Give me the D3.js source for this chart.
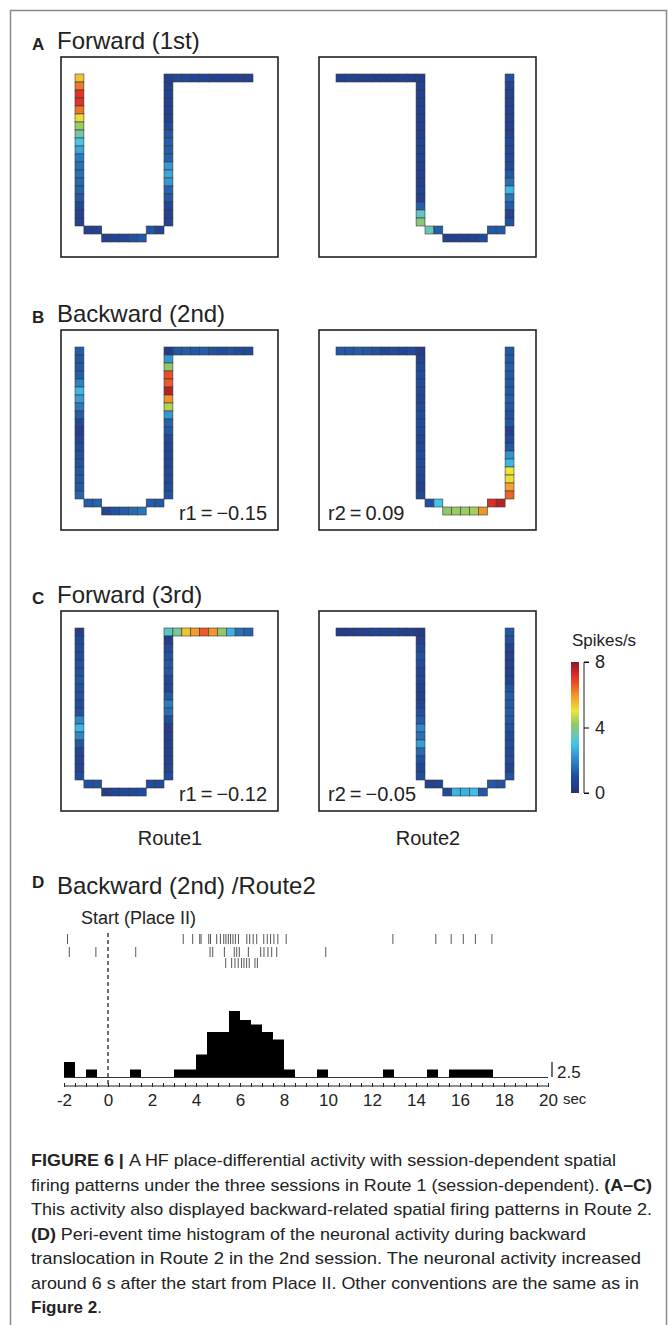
<!DOCTYPE html>
<html>
<head>
<meta charset="utf-8">
<script src="https://cdn.jsdelivr.net/npm/d3@7"></script>
<style>
  body { margin: 0; background: #fff; }
  text { font-family: "Liberation Sans", Arial, sans-serif; fill: #222; }
  .cap { font-family: "Liberation Sans Narrow", "Liberation Sans", sans-serif; }
</style>
</head>
<body>
<script>
// firing rate (spikes/s) per track cell, in reading order
// route1: left col top->bottom(19), stepL(2), bottom(5), stepR(2), right col top->bottom(19), top row(9)
// route2: top row(9), centre col top->bottom(19), stepL(2), bottom(5), stepR(2), right col top->bottom(19)
var aRoute1 = [5.4,6.3,7.1,7.1,6.3,5.1,4.3,3.6,3.1,2.5,1.8,1.6,1.6,1.5,1.4,1.2,0.8,0.6,0.6,
  0.6,0.7, 0.6,0.7,0.9,1.1,1.2, 1.2,0.7,
  0.6,0.6,0.6,0.6,0.6,0.6,0.9,1.2,1.3,1.3,1.4,2.3,2.5,2.3,1.4,1.2,0.8,0.6,0.7,
  0.9,0.9,0.8,0.8,0.6,0.6,0.6,0.6,0.6];
var aRoute2 = [0.6,0.7,0.6,0.6,0.5,0.5,0.5,0.6,0.5,
  0.5,0.6,0.6,0.6,0.6,0.6,0.6,0.6,0.7,0.7,0.7,0.6,0.6,0.6,0.7,0.6,1.3,3.4,4.0,
  3.5,1.3, 0.6,0.6,0.6,0.7,1.0, 1.2,1.2,
  1.1,0.7,0.6,0.6,0.6,0.6,0.6,0.7,0.9,0.9,0.9,1.0,1.2,1.6,2.8,1.7,1.3,0.7,1.1];
var bRoute1 = [1.3,1.2,1.2,1.3,1.9,2.8,2.4,1.8,1.3,0.8,0.5,0.8,1.0,1.1,1.1,1.2,1.2,1.2,1.4,
  1.3,1.4, 0.8,1.1,1.3,1.5,1.7, 1.3,1.2,
  0.4,2.3,4.2,6.7,6.6,7.6,6.0,4.5,2.3,1.4,1.2,0.9,0.8,0.8,0.8,0.9,0.9,1.0,1.1,
  1.2,1.3,1.2,1.3,1.1,1.0,1.1,1.0,0.9];
var bRoute2 = [1.2,1.2,1.3,1.2,1.1,0.8,1.0,0.8,1.0,
  0.5,0.7,0.9,1.0,1.0,0.9,0.8,0.9,1.0,1.0,0.9,0.7,0.9,1.0,1.0,0.9,0.8,0.6,0.9,
  1.1,3.0, 4.2,4.3,4.3,4.4,6.0, 7.2,7.6,
  1.2,1.2,1.3,1.2,1.2,1.2,1.3,1.2,1.1,1.2,0.6,1.0,1.2,2.2,2.8,5.0,5.1,5.8,6.5];
var cRoute1 = [0.5,0.9,1.0,1.0,1.1,1.1,1.2,1.1,1.1,1.0,1.1,2.0,2.8,2.0,1.2,0.8,0.7,0.7,1.0,
  1.1,1.1, 0.5,0.8,0.9,0.9,1.0, 1.0,0.9,
  3.3,0.5,1.0,1.1,1.2,1.2,0.9,0.8,1.2,1.8,1.6,1.0,0.5,0.5,0.5,0.6,0.6,0.7,1.0,
  3.8,5.4,5.9,6.6,6.0,4.2,2.7,1.6,1.4];
var cRoute2 = [0.5,0.5,0.6,0.6,0.7,0.7,0.8,0.6,0.6,
  0.4,0.6,0.9,1.1,1.0,0.7,0.8,0.6,0.6,0.8,1.1,1.3,2.0,1.6,2.4,1.5,1.1,0.8,1.0,
  0.7,0.7, 0.9,2.7,2.7,2.9,1.2, 1.2,1.1,
  1.2,1.1,0.7,0.6,0.6,0.6,0.8,1.1,1.3,1.2,1.3,1.2,1.1,0.9,1.0,0.9,1.0,0.7,1.1];

var corrLabels = ["", "", "r1\u2009=\u2009\u22120.15", "r2\u2009=\u20090.09", "r1\u2009=\u2009\u22120.12", "r2\u2009=\u2009\u22120.05"];
var panelTitles = ["Forward (1st)", "Backward (2nd)", "Forward (3rd)"];
var panelLetters = ["A", "B", "C"];

// colour bar
var rateTicks = [0, 4, 8];
var rateStops = [0, 1, 2, 3, 3.6, 4.2, 5, 6, 6.7, 7.3, 8];
var rateColors = ["#28307a", "#1f4c9e", "#2f86c8", "#43c3ea", "#70c6ac", "#90c866",
  "#ece43c", "#f3942a", "#e9502a", "#da2626", "#8a1a1e"];

// panel D raster (s from start) and PETH
var rasterRow1 = [-1.84, 3.42, 3.85, 4.17, 4.23, 4.58, 4.66, 4.94, 5.11, 5.26, 5.36, 5.47, 5.57,
  5.68, 5.79, 5.93, 6.31, 6.44, 6.6, 6.76, 7.08, 7.24, 7.39, 7.54, 7.72, 8.1,
  12.95, 14.9, 15.6, 16.15, 16.7, 17.45];
var rasterRow2 = [-1.76, -0.55, 1.26, 4.64, 4.76, 5.29, 5.74, 5.85, 5.97, 6.38, 6.94, 7.09,
  7.27, 7.44, 7.67, 9.9];
var rasterRow3 = [5.35, 5.62, 5.77, 5.92, 6.07, 6.18, 6.3, 6.42, 6.68, 6.79];
var binStarts = [-2, -1, 1, 3, 3.5, 4, 4.5, 5, 5.5, 6, 6.5, 7, 7.5, 8, 9.5, 12.5, 14.5, 15.5, 16, 16.5, 17];
var binRates  = [2.5, 1.25, 1.25, 1.25, 1.25, 3.75, 7.5, 7.5, 11, 9.5, 8.75, 7.5, 6.25, 1.25, 1.25, 1.25, 1.25, 1.25, 1.25, 1.25, 1.25];
var timeTicks = [-2, 0, 2, 4, 6, 8, 10, 12, 14, 16, 18, 20];

var captionLines = [
  [["FIGURE 6 | ", true], ["A HF place-differential activity with session-dependent spatial", false]],
  [["firing patterns under the three sessions in Route 1 (session-dependent). ", false], ["(A\u2013C)", true]],
  [["This activity also displayed backward-related spatial firing patterns in Route 2.", false]],
  [["(D) ", true], ["Peri-event time histogram of the neuronal activity during backward", false]],
  [["translocation in Route 2 in the 2nd session. The neuronal activity increased", false]],
  [["around 6 s after the start from Place II. Other conventions are the same as in", false]],
  [["Figure 2", true], [".", false]]
];
var captionWidths = [585, 621, 621, 555, 610, 608, 0];

var svg = d3.select("body").append("svg")
  .attr("width", 670).attr("height", 1325);

svg.append("rect")
  .attr("x", 10.5).attr("y", 10.5).attr("width", 656).attr("height", 1340)
  .attr("fill", "none").attr("stroke", "#8a8a8a").attr("stroke-width", 1.5);

var color = d3.scaleLinear().domain(rateStops).range(rateColors).clamp(true);

function trackCells(route) {
  var cells = [], i;
  if (route === 1) {
    for (i = 0; i < 19; i++) cells.push([0, i]);
    cells.push([1, 19], [2, 19]);
    for (i = 3; i <= 7; i++) cells.push([i, 20]);
    cells.push([8, 19], [9, 19]);
    for (i = 0; i < 19; i++) cells.push([10, i]);
    for (i = 11; i <= 19; i++) cells.push([i, 0]);
  } else {
    for (i = 0; i <= 8; i++) cells.push([i, 0]);
    for (i = 0; i < 19; i++) cells.push([9, i]);
    cells.push([10, 19], [11, 19]);
    for (i = 12; i <= 16; i++) cells.push([i, 20]);
    cells.push([17, 19], [18, 19]);
    for (i = 0; i < 19; i++) cells.push([19, i]);
  }
  return cells;
}

var boxW = 217, boxH = 200;
var boxX = [61, 319];
var boxY = [57, 330, 611];
var allData = [aRoute1, aRoute2, bRoute1, bRoute2, cRoute1, cRoute2];

allData.forEach(function(vals, k) {
  var row = Math.floor(k / 2), route = k % 2 + 1;
  var bx = boxX[route - 1], by = boxY[row];
  var g = svg.append("g");
  g.append("rect").attr("x", bx).attr("y", by).attr("width", boxW).attr("height", boxH)
    .attr("fill", "none").attr("stroke", "#222").attr("stroke-width", 1.6);
  var ox = bx + (route === 1 ? 14 : 17), oy = by + 17;
  var x = d3.scaleLinear().domain([0, 20]).range([ox, ox + 178]);
  var y = d3.scaleLinear().domain([0, 21]).range([oy, oy + 168]);
  var cells = trackCells(route);
  g.selectAll("rect.cell").data(cells).enter().append("rect")
    .attr("class", "cell")
    .attr("x", function(d) { return x(d[0]); })
    .attr("y", function(d) { return y(d[1]); })
    .attr("width", x(1) - x(0))
    .attr("height", y(1) - y(0))
    .attr("fill", function(d, i) { return color(vals[i]); })
    .attr("stroke", "#3a3a3a").attr("stroke-width", 0.6);
  if (corrLabels[k]) {
    g.append("text")
      .attr("x", route === 1 ? bx + boxW - 11 : bx + 9)
      .attr("y", by + boxH - 10)
      .attr("text-anchor", route === 1 ? "end" : "start")
      .style("font-size", "20px")
      .text(corrLabels[k]);
  }
});

panelTitles.forEach(function(t, i) {
  svg.append("text").attr("x", 32).attr("y", boxY[i] - 7)
    .style("font-size", "17px").style("font-weight", "bold").text(panelLetters[i]);
  svg.append("text").attr("x", 57).attr("y", boxY[i] - 8)
    .style("font-size", "24px").text(t);
});

svg.append("text").attr("x", 170).attr("y", 845).attr("text-anchor", "middle")
  .style("font-size", "20px").text("Route1");
svg.append("text").attr("x", 428).attr("y", 845).attr("text-anchor", "middle")
  .style("font-size", "20px").text("Route2");

// colour bar
var cbY = d3.scaleLinear().domain([0, 8]).range([793, 662]);
var grad = svg.append("defs").append("linearGradient").attr("id", "jet")
  .attr("x1", 0).attr("y1", 1).attr("x2", 0).attr("y2", 0);
rateStops.forEach(function(s, i) {
  grad.append("stop").attr("offset", s / 8).attr("stop-color", rateColors[i]);
});
svg.append("rect").attr("x", 571).attr("y", cbY(8)).attr("width", 8)
  .attr("height", cbY(0) - cbY(8)).attr("fill", "url(#jet)");
var cbAxis = svg.append("g").attr("transform", "translate(584,0)")
  .call(d3.axisRight(cbY).tickValues(rateTicks).tickSize(5).tickPadding(6));
cbAxis.select(".domain").attr("d", "M5," + cbY(8) + "H0V" + cbY(0) + "H5").attr("stroke", "#222");
cbAxis.selectAll("text").style("font-size", "18px").attr("fill", "#222");
svg.append("text").attr("x", 604).attr("y", 646).attr("text-anchor", "middle")
  .style("font-size", "17px").text("Spikes/s");

// panel D
svg.append("text").attr("x", 32).attr("y", 888)
  .style("font-size", "17px").style("font-weight", "bold").text("D");
svg.append("text").attr("x", 57).attr("y", 894)
  .style("font-size", "24px").text("Backward (2nd) /Route2");

var t = d3.scaleLinear().domain([-2, 20]).range([64, 548]);
var rate = d3.scaleLinear().domain([0, 2.5]).range([1077, 1062]);

svg.append("text").attr("x", 81).attr("y", 924).style("font-size", "18px").text("Start (Place II)");

[rasterRow1, rasterRow2, rasterRow3].forEach(function(r, i) {
  var top = [934, 947, 958][i];
  svg.append("g").selectAll("line").data(r).enter().append("line")
    .attr("x1", function(d) { return t(d); }).attr("x2", function(d) { return t(d); })
    .attr("y1", top).attr("y2", top + 10)
    .attr("stroke", "#444").attr("stroke-width", 0.9);
});

svg.append("line").attr("x1", t(0)).attr("x2", t(0)).attr("y1", 933).attr("y2", 1085)
  .attr("stroke", "#222").attr("stroke-width", 1.3).attr("stroke-dasharray", "4,3");

svg.append("g").selectAll("rect").data(binStarts).enter().append("rect")
  .attr("x", function(d) { return t(d); })
  .attr("width", function(d) { return t(d + 0.5) - t(d); })
  .attr("y", function(d, i) { return rate(binRates[i]); })
  .attr("height", function(d, i) { return rate(0) - rate(binRates[i]); })
  .attr("fill", "#000");
svg.append("line").attr("x1", t(-2)).attr("x2", t(20)).attr("y1", 1077.5).attr("y2", 1077.5)
  .attr("stroke", "#333").attr("stroke-width", 1);

var xAxis = svg.append("g").attr("transform", "translate(0,1086)")
  .call(d3.axisBottom(t).tickValues(d3.range(-2, 20.01, 0.5)).tickSize(4)
    .tickFormat(function(d) { return timeTicks.indexOf(d) >= 0 ? (d < 0 ? "-" + (-d) : d) : ""; }));
xAxis.select(".domain").attr("d", "M" + t(-2) + ",0H" + t(20)).attr("stroke", "#222");
xAxis.selectAll(".tick line").attr("y1", -3).attr("y2", 1).attr("stroke", "#222");
xAxis.selectAll("text").style("font-size", "17px").attr("fill", "#222").attr("dy", "0.75em");
svg.append("text").attr("x", 563).attr("y", 1104).style("font-size", "15px").text("sec");

// 2.5 spikes/s scale bar
svg.append("line").attr("x1", 552).attr("x2", 552).attr("y1", rate(2.5)).attr("y2", rate(0))
  .attr("stroke", "#222").attr("stroke-width", 1.3);
svg.append("text").attr("x", 557).attr("y", 1078).style("font-size", "17px").text("2.5");

// caption
captionLines.forEach(function(line, i) {
  var tx = svg.append("text").attr("class", "cap").attr("x", 31).attr("y", 1166 + i * 24.5)
    .style("font-size", "17px");
  if (captionWidths[i]) tx.attr("textLength", captionWidths[i]).attr("lengthAdjust", "spacingAndGlyphs");
  line.forEach(function(seg) {
    tx.append("tspan").style("font-weight", seg[1] ? "bold" : "normal").text(seg[0]);
  });
});
</script>
</body>
</html>
